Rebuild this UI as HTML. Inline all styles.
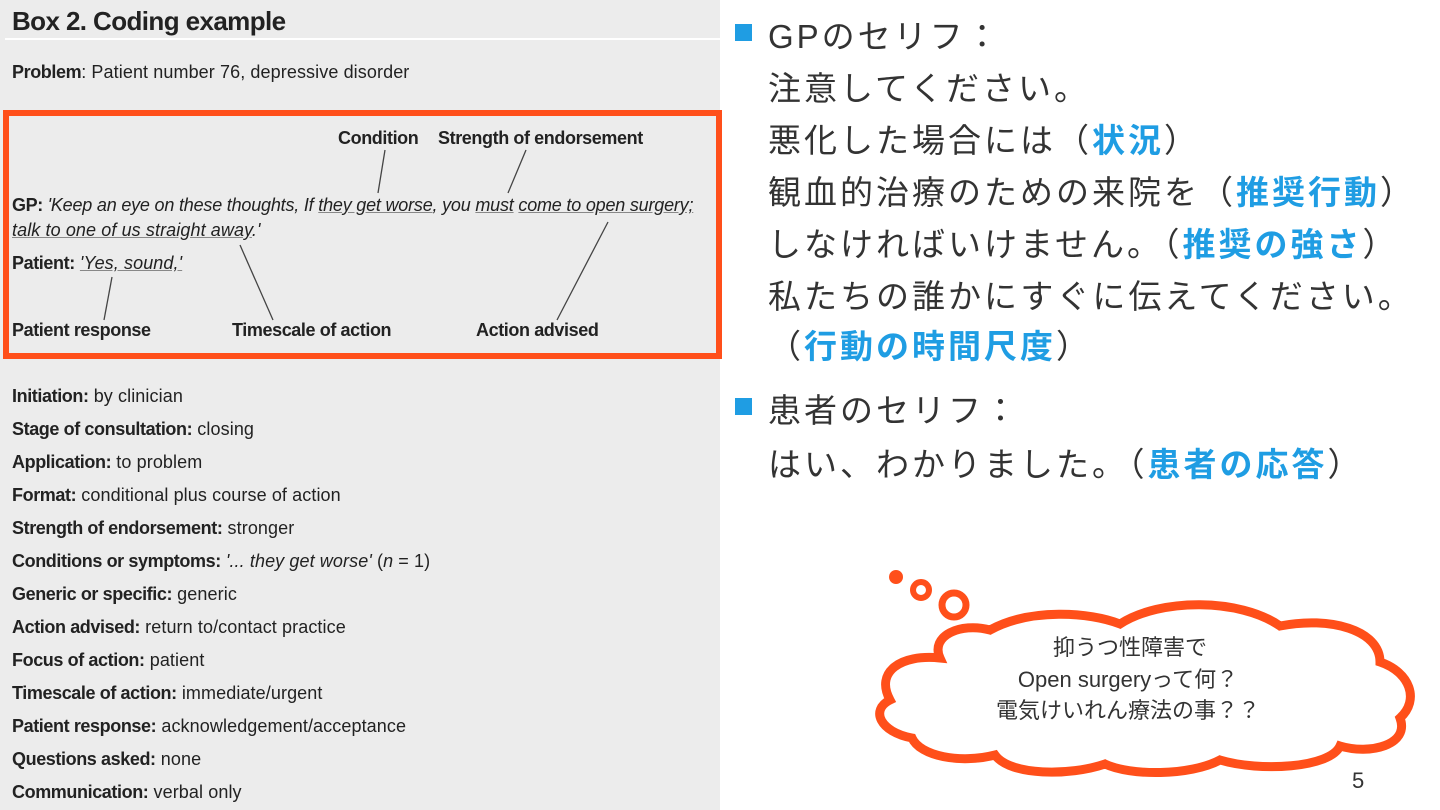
<!DOCTYPE html>
<html><head><meta charset="utf-8"><style>
body{margin:0;width:1440px;height:810px;background:#fff;position:relative;overflow:hidden;font-family:"Liberation Sans","Noto Sans CJK JP",sans-serif}
.left{position:absolute;left:0;top:0;width:720px;height:810px;background:#ececec;color:#222}
.a{position:absolute;white-space:nowrap;font-size:18px;letter-spacing:0.1px}
.b{font-weight:bold;letter-spacing:-0.4px}
.i{font-style:italic}
.u{text-decoration:underline;text-decoration-color:#888}
.jp{position:absolute;left:768px;font-size:33px;color:#333;white-space:nowrap;letter-spacing:3px}
.bl{color:#1f9de3;font-weight:bold}
.sq{position:absolute;left:735px;width:17px;height:17px;background:#1f9de3}
</style></head><body>
<div class="left">
<div class="a b" style="left:12px;top:6px;font-size:26px;letter-spacing:-0.6px">Box 2. Coding example</div>
<div style="position:absolute;left:5px;top:38px;width:715px;height:2px;background:#fff"></div>
<div class="a" style="left:12px;top:62px"><span class="b">Problem</span>: Patient number 76, depressive disorder</div>
<div style="position:absolute;left:3px;top:110px;width:707px;height:237px;border:6px solid #ff4f1a"></div>
<div class="a b" style="left:338px;top:128px">Condition</div>
<div class="a b" style="left:438px;top:128px">Strength of endorsement</div>
<div class="a" style="left:12px;top:195px;letter-spacing:-0.2px"><span class="b">GP:</span> <span class="i">'Keep an eye on these thoughts, If <span class="u">they get worse</span>, you <span class="u">must</span> <span class="u">come to open surgery;</span></span></div>
<div class="a i" style="left:12px;top:220px"><span class="u">talk to one of us straight away</span>.'</div>
<div class="a" style="left:12px;top:253px"><span class="b">Patient:</span> <span class="i u">'Yes, sound,'</span></div>
<div class="a b" style="left:12px;top:320px">Patient response</div>
<div class="a b" style="left:232px;top:320px">Timescale of action</div>
<div class="a b" style="left:476px;top:320px">Action advised</div>
<svg style="position:absolute;left:0;top:0" width="720" height="400"><g stroke="#444" stroke-width="1.3">
<line x1="385" y1="150" x2="378" y2="193"/><line x1="526" y1="150" x2="508" y2="193"/>
<line x1="608" y1="222" x2="557" y2="320"/><line x1="240" y1="245" x2="273" y2="320"/>
<line x1="112" y1="277" x2="104" y2="320"/></g></svg>
<div class="a" style="left:12px;top:386px"><span class="b">Initiation:</span> by clinician</div>
<div class="a" style="left:12px;top:419px"><span class="b">Stage of consultation:</span> closing</div>
<div class="a" style="left:12px;top:452px"><span class="b">Application:</span> to problem</div>
<div class="a" style="left:12px;top:485px"><span class="b">Format:</span> conditional plus course of action</div>
<div class="a" style="left:12px;top:518px"><span class="b">Strength of endorsement:</span> stronger</div>
<div class="a" style="left:12px;top:551px"><span class="b">Conditions or symptoms:</span> <span class="i">'... they get worse'</span> (<span class="i">n</span> = 1)</div>
<div class="a" style="left:12px;top:584px"><span class="b">Generic or specific:</span> generic</div>
<div class="a" style="left:12px;top:617px"><span class="b">Action advised:</span> return to/contact practice</div>
<div class="a" style="left:12px;top:650px"><span class="b">Focus of action:</span> patient</div>
<div class="a" style="left:12px;top:683px"><span class="b">Timescale of action:</span> immediate/urgent</div>
<div class="a" style="left:12px;top:716px"><span class="b">Patient response:</span> acknowledgement/acceptance</div>
<div class="a" style="left:12px;top:749px"><span class="b">Questions asked:</span> none</div>
<div class="a" style="left:12px;top:782px"><span class="b">Communication:</span> verbal only</div>
</div>
<div class="sq" style="top:24px"></div>
<div class="jp" style="top:10px">GPのセリフ：</div>
<div class="jp" style="top:62px">注意してください。</div>
<div class="jp" style="top:114px">悪化した場合には（<span class="bl">状況</span>）</div>
<div class="jp" style="top:166px">観血的治療のための来院を（<span class="bl">推奨行動</span>）</div>
<div class="jp" style="top:218px">しなければいけません。（<span class="bl">推奨の強さ</span>）</div>
<div class="jp" style="top:270px">私たちの誰かにすぐに伝えてください。</div>
<div class="jp" style="top:320px">（<span class="bl">行動の時間尺度</span>）</div>
<div class="sq" style="top:398px"></div>
<div class="jp" style="top:384px">患者のセリフ：</div>
<div class="jp" style="top:438px">はい、わかりました。（<span class="bl">患者の応答</span>）</div>
<svg style="position:absolute;left:860px;top:560px" width="580" height="250">
<g fill="#fff" stroke="#ff4f1a" stroke-width="9">
<circle cx="36" cy="17" r="5" fill="#ff4f1a" stroke-width="4"/>
<circle cx="61" cy="30" r="8" stroke-width="6"/>
<circle cx="94" cy="45" r="12" stroke-width="7"/>
<path d="M130 70 C170 48 230 52 260 64 C300 38 380 38 420 66 C470 56 520 70 520 102 C550 112 560 140 540 158 C550 185 510 195 480 186 C470 208 400 212 360 200 C330 216 270 216 245 204 C210 216 150 216 135 195 C100 204 60 196 52 178 C20 172 10 150 30 140 C15 112 40 94 80 98 C70 76 100 62 130 70 Z"/>
</g>
<g font-size="22" fill="#333" text-anchor="middle" font-family="Liberation Sans,Noto Sans CJK JP,sans-serif">
<text x="270" y="95">抑うつ性障害で</text>
<text x="268" y="127">Open surgeryって何？</text>
<text x="268" y="158">電気けいれん療法の事？？</text>
</g>
<text x="492" y="228" font-size="22" fill="#333" font-family="Liberation Sans,sans-serif">5</text>
</svg>
</body></html>
